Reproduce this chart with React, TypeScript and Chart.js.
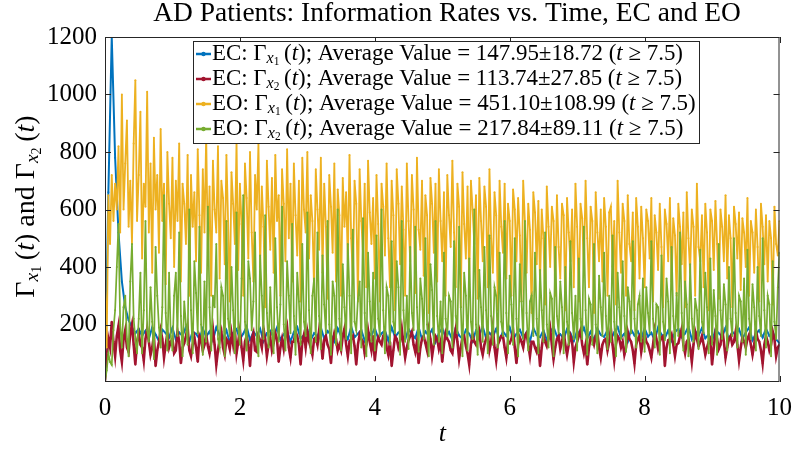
import { useEffect, useRef } from 'react';
import { Chart, registerables } from 'chart.js';

Chart.register(...registerables);

// Each series is sampled uniformly on t in [0, 10]; the step follows from its length.

// EC: Γ_{x1}(t), step 0.05
const ecX1 = [
  10, 660, 1200, 780, 520, 350, 260, 215, 190, 170,
  185, 160, 178, 150, 190, 165, 142, 182, 170, 155,
  188, 148, 172, 160, 192, 140, 175, 168, 150, 186,
  158, 176, 145, 190, 162, 152, 180, 138, 171, 184,
  150, 168, 193, 146, 175, 160, 185, 142, 170, 178,
  155, 189, 147, 166, 180, 140, 174, 191, 152, 163,
  182, 145, 170, 158, 190, 150, 177, 164, 141, 186,
  160, 173, 149, 192, 156, 168, 181, 143, 175, 162,
  188, 151, 169, 179, 144, 190, 157, 172, 163, 147,
  184, 166, 153, 191, 148, 176, 161, 183, 139, 170,
  187, 155, 174, 146, 189, 162, 150, 181, 168, 142,
  179, 164, 193, 152, 171, 158, 185, 145, 176, 160,
  190, 149, 167, 182, 154, 173, 141, 188, 163, 156,
  180, 147, 172, 192, 159, 166, 150, 184, 170, 143,
  178, 161, 189, 152, 175, 145, 186, 164, 157, 181,
  148, 173, 191, 155, 168, 140, 183, 162, 176, 150,
  187, 158, 171, 146, 190, 165, 153, 179, 144, 174,
  185, 156, 169, 193, 149, 177, 161, 188, 152, 166,
  142, 182, 170, 157, 189, 147, 175, 163, 184, 151,
  172, 190, 145, 168, 180, 155, 186, 160, 174, 148,
  135,
];

// EC: Γ_{x2}(t), step 0.025
const ecX2 = [
  5, 80, 150, 120, 210, 140, 90, 160, 195, 110, 70, 150, 180, 120, 105, 170, 200, 130, 60, 140,
  170, 130, 120, 75, 150, 185, 140, 95, 120, 160, 55, 110, 140, 180, 150, 85, 130, 170, 120, 140,
  150, 100, 110, 175, 140, 65, 120, 135, 160, 190, 110, 90, 130, 155, 120, 70, 160, 145, 110, 130,
  165, 125, 100, 140, 185, 130, 60, 110, 150, 175, 120, 95, 150, 140, 115, 170, 130, 180, 100, 140,
  180, 120, 75, 140, 160, 130, 55, 150, 170, 110, 105, 160, 145, 120, 185, 150, 90, 130, 155, 110,
  135, 170, 150, 70, 120, 150, 115, 160, 190, 120, 85, 140, 140, 175, 160, 130, 60, 140, 165, 120,
  175, 140, 120, 95, 150, 155, 130, 180, 150, 80, 145, 160, 130, 115, 65, 140, 170, 150, 110, 130,
  110, 160, 185, 130, 90, 140, 150, 160, 125, 60, 130, 165, 150, 140, 100, 130, 180, 140, 110, 160,
  75, 130, 155, 140, 130, 160, 170, 120, 95, 140, 55, 110, 160, 150, 120, 140, 185, 130, 85, 120,
  145, 160, 175, 130, 105, 140, 65, 120, 150, 160, 135, 110, 180, 150, 90, 130, 160, 150, 115, 140,
  70, 130, 170, 150, 140, 110, 100, 150, 185, 140, 80, 120, 155, 160, 125, 100, 60, 130, 165, 140,
  130, 150, 175, 120, 95, 130, 150, 170, 110, 140, 190, 120, 75, 130, 145, 160, 160, 120, 85, 140,
  135, 150, 180, 120, 65, 130, 155, 140, 120, 160, 170, 130, 90, 140, 140, 120, 105, 130, 55, 120,
  165, 140, 125, 150, 185, 130, 80, 120, 150, 160, 115, 140, 175, 130, 95, 130, 160, 140, 70, 120,
  140, 160, 180, 130, 100, 130, 60, 120, 155, 150, 130, 160, 170, 120, 85, 130, 145, 150, 110, 140,
  185, 130, 75, 130, 160, 150, 120, 140, 95, 120, 175, 150, 140, 110, 65, 130, 150, 160, 105, 140,
  170, 140, 130, 110, 85, 130, 180, 150, 115, 140, 155, 160, 55, 120, 145, 150, 165, 130, 90, 130,
  135, 160, 185, 130, 100, 140, 150, 120, 70, 130, 175, 150, 125, 140, 160, 130, 95, 120, 140, 150,
  60, 120, 170, 150, 115, 130, 185, 140, 85, 120, 150, 160, 130, 140, 175, 130, 75, 120, 155, 140,
  120, 150, 165, 130, 95, 130, 180, 150, 140, 110, 65, 130, 160, 140, 110, 130, 175, 150, 90, 120,
  130,
];

// EO: Γ_{x1}(t), step 0.025
const eoX1 = [
  330, 120, 650, 480, 720, 560, 690, 600, 820, 520, 1000, 600, 760, 910, 540, 700, 480, 830, 1050, 560,
  720, 940, 430, 690, 610, 1010, 520, 760, 380, 850, 600, 720, 450, 880, 560, 690, 340, 800, 620, 500,
  780, 400, 700, 560, 830, 350, 690, 620, 480, 790, 300, 720, 540, 660, 420, 810, 580, 380, 740, 520,
  860, 450, 680, 300, 770, 600, 520, 820, 360, 700, 640, 410, 790, 560, 280, 730, 620, 480, 840, 390,
  690, 550, 300, 760, 640, 430, 800, 520, 350, 720, 600, 830, 400, 680, 540, 260, 770, 610, 460, 710,
  380, 790, 560, 650, 300, 740, 620, 420, 810, 500, 690, 350, 760, 580, 440, 700, 280, 780, 600, 520,
  800, 430, 650, 560, 320, 740, 600, 460, 780, 380, 690, 540, 290, 720, 610, 450, 760, 350, 670, 580,
  300, 710, 540, 660, 420, 790, 500, 360, 700, 620, 280, 740, 560, 450, 690, 330, 770, 590, 480, 640,
  360, 720, 550, 280, 690, 610, 440, 760, 500, 330, 700, 580, 250, 740, 620, 410, 680, 530, 300, 760,
  560, 420, 720, 600, 310, 780, 530, 460, 700, 370, 650, 580, 240, 710, 620, 450, 690, 350, 740, 560,
  420, 660, 300, 720, 580, 470, 770, 520, 330, 690, 610, 260, 730, 550, 430, 680, 340, 700, 600, 480,
  650, 290, 710, 560, 420, 680, 610, 330, 740, 500, 380, 660, 580, 250, 700, 540, 450, 690, 360, 620,
  560, 300, 670, 600, 420, 640, 510, 280, 700, 560, 380, 620, 530, 240, 660, 590, 410, 630, 340, 600,
  500, 270, 680, 540, 400, 610, 560, 300, 650, 470, 360, 620, 580, 250, 640, 520, 420, 600, 330, 690,
  540, 280, 620, 570, 390, 700, 500, 330, 610, 560, 240, 660, 520, 420, 600, 350, 640, 540, 300, 590,
  610, 400, 560, 270, 700, 520, 380, 620, 560, 300, 650, 480, 420, 590, 250, 640, 540, 360, 610, 500,
  330, 600, 560, 430, 640, 280, 580, 520, 390, 620, 470, 260, 600, 550, 420, 640, 350, 570, 510, 300,
  620, 540, 410, 590, 260, 660, 500, 380, 600, 540, 300, 690, 470, 420, 580, 330, 620, 520, 250, 600,
  560, 390, 630, 480, 290, 600, 540, 420, 650, 360, 580, 500, 260, 610, 550, 430, 590, 320, 570, 520,
  400, 640, 300, 560, 520, 380, 600, 470, 280, 620, 540, 410, 580, 350, 560, 500, 270, 610, 480, 440,
  560,
];

// EO: Γ_{x2}(t), step 0.025
const eoX2 = [
  0, 40, 100, 70, 60, 180, 250, 400, 550, 200, 120, 260, 300, 150, 90, 350, 480, 220, 150, 100,
  220, 380, 100, 250, 560, 180, 140, 330, 210, 80, 470, 300, 190, 120, 260, 650, 240, 110, 380, 160,
  110, 300, 380, 160, 520, 230, 90, 280, 200, 130, 600, 250, 100, 420, 310, 170, 540, 200, 95, 350,
  140, 610, 260, 110, 300, 260, 480, 150, 120, 330, 300, 90, 560, 220, 160, 400, 250, 100, 590, 190,
  130, 360, 650, 210, 110, 420, 360, 180, 280, 520, 150, 90, 440, 300, 150, 580, 240, 120, 330, 180,
  100, 500, 260, 140, 270, 610, 200, 110, 420, 300, 170, 550, 230, 95, 380, 280, 130, 480, 210, 160,
  590, 250, 100, 300, 360, 140, 520, 230, 115, 440, 270, 170, 560, 200, 95, 350, 300, 130, 600, 220,
  110, 410, 260, 150, 480, 300, 100, 530, 210, 180, 290, 350, 120, 570, 240, 90, 450, 280, 140, 380,
  110, 510, 220, 160, 600, 250, 100, 330, 300, 130, 490, 210, 170, 420, 330, 95, 560, 250, 140, 300,
  115, 470, 240, 180, 540, 260, 105, 360, 290, 150, 500, 200, 90, 410, 320, 130, 560, 230, 140, 280,
  100, 450, 220, 160, 300, 280, 120, 490, 230, 170, 540, 260, 90, 380, 300, 110, 430, 210, 150, 600,
  200, 95, 390, 260, 140, 470, 250, 100, 510, 230, 130, 330, 300, 120, 450, 210, 160, 560, 240, 100,
  370, 270, 130, 500, 220, 90, 410, 280, 150, 560, 240, 110, 280, 300, 160, 450, 220, 100, 390, 250,
  140, 520, 200, 120, 310, 290, 90, 470, 230, 170, 350, 260, 100, 400, 210, 130, 490, 240, 150, 300,
  110, 430, 220, 150, 540, 250, 95, 290, 270, 130, 480, 200, 100, 370, 260, 160, 450, 230, 115, 300,
  140, 510, 210, 90, 380, 260, 150, 420, 230, 105, 330, 280, 170, 490, 220, 120, 270, 300, 140, 360,
  105, 330, 240, 170, 490, 220, 120, 270, 260, 95, 440, 210, 145, 360, 280, 100, 470, 230, 130, 310,
  160, 520, 240, 110, 350, 270, 90, 410, 220, 140, 290, 250, 115, 460, 210, 170, 380, 260, 100, 430,
  130, 320, 230, 95, 480, 250, 150, 340, 270, 110, 400, 220, 160, 500, 240, 120, 300, 280, 140, 360,
  95, 460, 220, 150, 340, 260, 110, 400, 230, 160, 500, 250, 120, 300, 270, 90, 420, 210, 150, 330,
  450,
];

// Legend entries
const conditions = ['EC', 'EC', 'EO', 'EO'];
const subscripts = ['1', '2', '1', '2'];
const means = ['147.95', '113.74', '451.10', '217.84'];
const spreads = ['18.72', '27.85', '108.99', '89.11'];
const colors = ['#0072BD', '#A2142F', '#EDB120', '#77AC30'];
const lineWidths = [2, 2.6, 1.8, 1.7];
const seriesValues = [ecX1, ecX2, eoX1, eoX2];

// Axis ticks
const xTickStep = 2;
const yTickStep = 200;
const xRange = [0, 10];
const yRange = [0, 1200];

const TITLE = 'AD Patients: Information Rates vs. Time, EC and EO';

const SERIF = '"Liberation Serif", "DejaVu Serif", serif';
const INK = '#262626';

type Seg = { s: string; it?: boolean; lvl?: number };

const levelScale = [1, 0.7, 0.5];
const levelShift = [0, 0.22, 0.36];

function segFont(seg: Seg, size: number) {
  const sz = size * levelScale[seg.lvl || 0];
  return `${seg.it ? 'italic ' : ''}${sz}px ${SERIF}`;
}

function measureRich(ctx: CanvasRenderingContext2D, segs: Seg[], size: number) {
  let w = 0;
  for (const seg of segs) {
    ctx.font = segFont(seg, size);
    w += ctx.measureText(seg.s).width;
  }
  return w;
}

function drawRich(ctx: CanvasRenderingContext2D, segs: Seg[], x: number, y: number, size: number) {
  let cx = x;
  ctx.textAlign = 'left';
  ctx.textBaseline = 'middle';
  for (const seg of segs) {
    ctx.font = segFont(seg, size);
    ctx.fillText(seg.s, cx, y + size * levelShift[seg.lvl || 0]);
    cx += ctx.measureText(seg.s).width;
  }
  return cx;
}

function gammaSegs(k: string): Seg[] {
  return [
    { s: 'Γ' },
    { s: 'x', it: true, lvl: 1 },
    { s: k, lvl: 2 },
    { s: '\u2009(' },
    { s: 't', it: true },
    { s: ')' },
  ];
}

function legendRow(i: number): Seg[] {
  return [
    { s: `${conditions[i]}: ` },
    ...gammaSegs(subscripts[i]),
    { s: `; Average Value = ${means[i]}±${spreads[i]} (` },
    { s: 't', it: true },
    { s: ' ≥ 7.5)' },
  ];
}

const decorations = {
  id: 'decorations',
  afterDraw(chart: Chart) {
    const ctx = chart.ctx;
    const { left, right, top, bottom } = chart.chartArea;
    const xs = chart.scales.x;
    const ys = chart.scales.y;
    ctx.save();

    // axes box with inward ticks on all four sides
    ctx.strokeStyle = INK;
    ctx.lineWidth = 1;
    ctx.strokeRect(left + 0.5, top + 0.5, right - left - 1, bottom - top - 1);
    const tl = 6;
    ctx.beginPath();
    for (let v = xRange[0]; v <= xRange[1]; v += xTickStep) {
      const px = Math.round(xs.getPixelForValue(v)) + 0.5;
      ctx.moveTo(px, bottom);
      ctx.lineTo(px, bottom - tl);
      ctx.moveTo(px, top);
      ctx.lineTo(px, top + tl);
    }
    for (let v = yTickStep; v <= yRange[1]; v += yTickStep) {
      const py = Math.round(ys.getPixelForValue(v)) + 0.5;
      ctx.moveTo(left, py);
      ctx.lineTo(left + tl, py);
      ctx.moveTo(right, py);
      ctx.lineTo(right - tl, py);
    }
    ctx.stroke();

    ctx.fillStyle = '#000';

    // title
    const titleSegs: Seg[] = [{ s: TITLE }];
    let ts = 20;
    ts = (ts * 588) / measureRich(ctx, titleSegs, ts);
    const tw = measureRich(ctx, titleSegs, ts);
    drawRich(ctx, titleSegs, 447 - tw / 2, 14, ts);

    // x axis label
    const xl: Seg[] = [{ s: 't', it: true }];
    const xlw = measureRich(ctx, xl, 26);
    drawRich(ctx, xl, (left + right) / 2 - xlw / 2, 434, 26);

    // y axis label
    const yl: Seg[] = [...gammaSegs('1'), { s: ' and ' }, ...gammaSegs('2')];
    let ys0 = 25;
    ys0 = Math.min(28, (ys0 * 200) / measureRich(ctx, yl, ys0));
    const ylw = measureRich(ctx, yl, ys0);
    ctx.save();
    ctx.translate(27, (top + bottom) / 2 - 3);
    ctx.rotate(-Math.PI / 2);
    drawRich(ctx, yl, -ylw / 2, 0, ys0);
    ctx.restore();

    // legend
    const rows = colors.map((_, i) => legendRow(i));
    let ls = 20;
    const widest = Math.max(...rows.map((r) => measureRich(ctx, r, ls)));
    ls = (ls * 484) / widest;
    const boxL = 193;
    const boxT = 41;
    const boxR = 700;
    const rowH = 25;
    const boxB = boxT + rowH * rows.length + 3;
    ctx.fillStyle = '#fff';
    ctx.fillRect(boxL, boxT, boxR - boxL, boxB - boxT);
    ctx.strokeStyle = INK;
    ctx.lineWidth = 1;
    ctx.strokeRect(boxL + 0.5, boxT + 0.5, boxR - boxL - 1, boxB - boxT - 1);
    rows.forEach((r, i) => {
      const cy = boxT + 13 + i * rowH;
      ctx.strokeStyle = colors[i];
      ctx.lineWidth = 2.5;
      ctx.beginPath();
      ctx.moveTo(196, cy);
      ctx.lineTo(211, cy);
      ctx.stroke();
      ctx.fillStyle = colors[i];
      ctx.beginPath();
      ctx.arc(203.5, cy, 2.2, 0, Math.PI * 2);
      ctx.fill();
      ctx.fillStyle = '#000';
      drawRich(ctx, r, 212, cy, ls);
    });

    ctx.restore();
  },
};

export default function App() {
  const ref = useRef<HTMLCanvasElement | null>(null);

  useEffect(() => {
    const canvas = ref.current;
    if (!canvas) return;
    const span = xRange[1] - xRange[0];
    const datasets = seriesValues.map((vals, i) => {
      const step = span / (vals.length - 1);
      return {
        label: `${conditions[i]} ${subscripts[i]}`,
        data: vals.map((v, k) => ({ x: xRange[0] + k * step, y: v })),
        borderColor: colors[i],
        backgroundColor: colors[i],
        borderWidth: lineWidths[i],
        pointRadius: 1,
        pointBorderWidth: 0,
        pointHoverRadius: 0,
        tension: 0,
        order: 3 - i,
      };
    });

    const chart = new Chart(canvas, {
      type: 'line',
      data: { datasets },
      options: {
        animation: false,
        responsive: false,
        devicePixelRatio: 1,
        layout: { padding: { top: 37, right: 14, left: 0, bottom: 0 } },
        plugins: {
          legend: { display: false },
          title: { display: false },
          tooltip: { enabled: false },
        },
        scales: {
          x: {
            type: 'linear',
            min: xRange[0],
            max: xRange[1],
            grid: { display: false, drawTicks: false },
            border: { display: false },
            ticks: {
              stepSize: xTickStep,
              padding: 11,
              color: '#000',
              font: { family: SERIF, size: 25 },
              maxRotation: 0,
            },
            afterFit: (s: any) => {
              s.height = 68;
            },
          },
          y: {
            type: 'linear',
            min: yRange[0],
            max: yRange[1],
            grid: { display: false, drawTicks: false },
            border: { display: false },
            ticks: {
              stepSize: yTickStep,
              padding: 8,
              color: '#000',
              font: { family: SERIF, size: 25 },
              callback: (v: any) => (v === 0 ? '' : String(v)),
            },
            afterFit: (s: any) => {
              s.width = 105;
            },
          },
        },
      },
      plugins: [decorations],
    });
    return () => chart.destroy();
  }, []);

  return (
    <div style={{ position: 'fixed', left: 0, top: 0, width: 803, height: 450, background: '#fff' }}>
      <canvas ref={ref} width={803} height={450} />
    </div>
  );
}
